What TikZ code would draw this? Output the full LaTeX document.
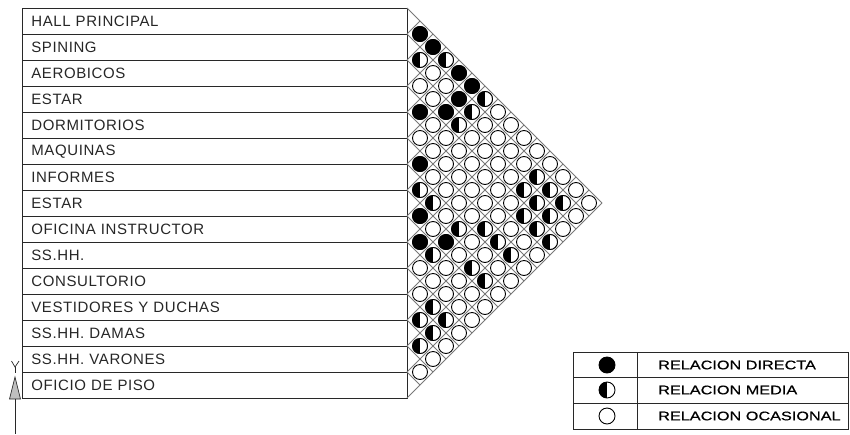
\documentclass[tikz,border=0pt]{standalone}
\usepackage{fontspec}
\setmainfont{Liberation Sans}[LetterSpace=4]
\newfontfamily\legfont{Liberation Sans}[FakeStretch=1.3, FakeBold=0.6]
\usepackage{xcolor}
\usepackage{tikz}
\usetikzlibrary{positioning}
\definecolor{inkline}{RGB}{40, 40, 40}
\definecolor{gridline}{RGB}{120, 120, 120}

\begin{document}
\begin{tikzpicture}[x=1pt, y=-1pt,
  room/.style={draw=inkline, line width=0.8pt, anchor=north west,
               minimum height=26pt, text width=367pt, inner xsep=9pt,
               inner ysep=0pt, align=left, text=black!85,
               font=\fontsize{15}{17}\selectfont},
  grid/.style={draw=gridline, line width=0.9pt},
  relocc/.style={circle, draw=black, fill=white, line width=0.9pt,
                 minimum size=15pt, inner sep=0pt},
  reldir/.style={relocc, fill=black},
  relmed/.style={relocc, path picture={\fill[black]
      (path picture bounding box.south west) rectangle
      (path picture bounding box.north);}},
  legtxt/.style={anchor=west, inner sep=0pt, text=black,
                 font=\legfont\fontsize{12.5}{14}\selectfont}]
  \useasboundingbox (0,0) rectangle (850,434);

  % rows of the matrix
  \foreach \name [count=\k from 0] in {HALL PRINCIPAL, SPINING, AEROBICOS,
      ESTAR, DORMITORIOS, MAQUINAS, INFORMES, ESTAR, OFICINA INSTRUCTOR,
      SS.HH., CONSULTORIO, VESTIDORES Y DUCHAS, SS.HH. DAMAS,
      SS.HH. VARONES, OFICIO DE PISO}
    \node[room] (r\k) at (22, 8+26*\k) {\name};

  % diamond grid
  \foreach \m in {0,...,15} {
    \draw[grid] (407, 8+26*\m) -- ++({195-13*\m}, {195-13*\m});
    \draw[grid] (407, 8+26*\m) -- ++({13*\m}, {-13*\m});
  }

  % all pairs, occasional by default
  \foreach \i in {0,...,13} {
    \pgfmathtruncatemacro\jfirst{\i+1}
    \foreach \j in {\jfirst,...,14}
      \node[relocc] (c\i-\j) at ({407+13*(\j-\i)}, {21+13*(\i+\j)}) {};
  }
  % direct relations
  \foreach \i/\j in {0/1, 0/2, 0/4, 0/5, 1/5, 3/4, 2/5, 5/6, 7/8, 8/9, 7/10}
    \node[reldir] at (c\i-\j) {};
  % medium relations
  \foreach \i/\j in {1/2, 0/3, 0/6, 1/6, 2/6, 1/11, 6/7, 2/11, 1/12, 6/8,
      2/12, 1/13, 3/12, 2/13, 6/10, 5/11, 3/13, 5/12, 3/14, 8/10, 5/13,
      7/12, 7/13, 10/12, 11/12, 10/13, 11/13, 12/13}
    \node[relmed] at (c\i-\j) {};

  % level mark
  \draw[inkline, line width=0.7pt] (11.5,361) -- (15,367) -- (19,361);
  \draw[inkline, line width=0.7pt] (15,367) -- (15,373);
  \filldraw[draw=inkline, fill=black!25, line width=0.7pt]
    (15,377) -- (9.5,399) -- (20.5,399) -- cycle;
  \draw[inkline, line width=0.7pt] (15,399) -- (15,434);

  % legend
  \draw[inkline, line width=0.8pt] (573,352) rectangle (848,429);
  \draw[inkline, line width=0.8pt] (573,377.5) -- (848,377.5);
  \draw[inkline, line width=0.8pt] (573,403) -- (848,403);
  \draw[inkline, line width=0.8pt] (637,352) -- (637,429);
  \node[reldir, minimum size=16pt] (kdir) at (607,365) {};
  \node[relmed, minimum size=16pt] (kmed) at (607,390) {};
  \node[relocc, minimum size=16pt] (kocc) at (607,416) {};
  \node[legtxt] (tdir) at (658,365) {RELACION DIRECTA};
  \node[legtxt] (tmed) at (658,390) {RELACION MEDIA};
  \node[legtxt] (tocc) at (658,416) {RELACION OCASIONAL};
\end{tikzpicture}
\end{document}
